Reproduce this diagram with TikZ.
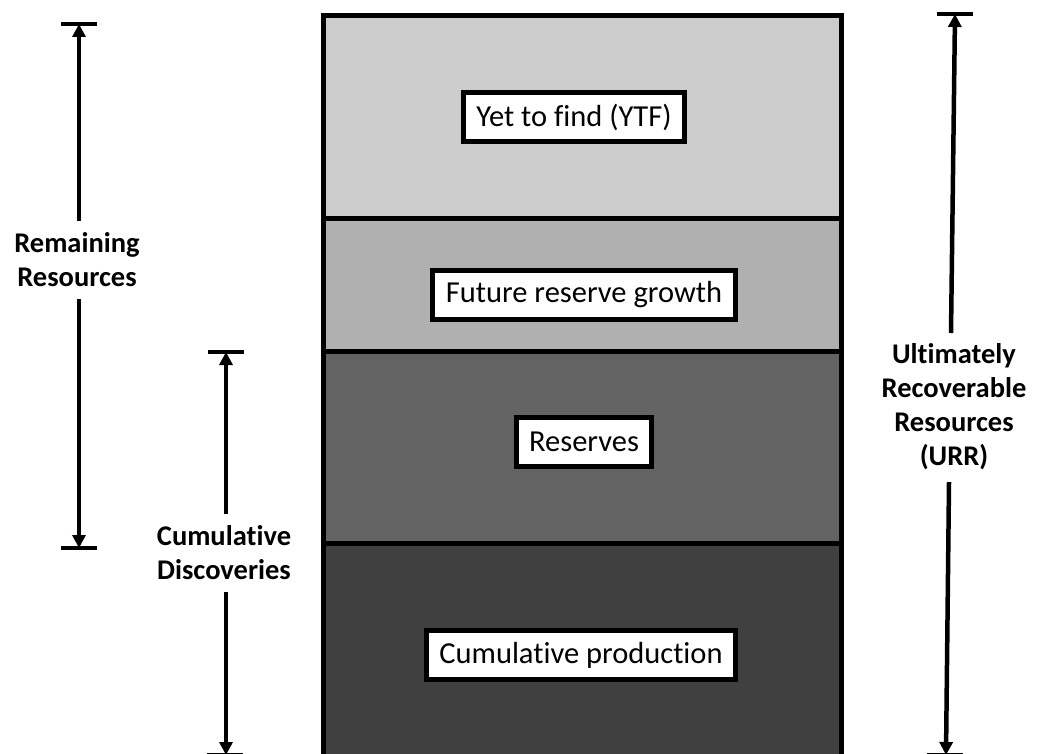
\documentclass[tikz,border=0pt]{standalone}
\usepackage{fontspec}
\setmainfont{Carlito}[Ligatures={NoCommon}]
\usetikzlibrary{arrows.meta}
\definecolor{lyrA}{HTML}{CCCCCC}
\definecolor{lyrB}{HTML}{B0B0B0}
\definecolor{lyrC}{HTML}{636363}
\definecolor{lyrD}{HTML}{404040}
\tikzset{
  boxlabel/.style={draw=black, line width=5pt, fill=white, inner xsep=13pt, minimum height=49pt, font=\fontsize{30.5}{36}\selectfont},
  sidelabel/.style={align=center, inner xsep=2pt, font=\bfseries\fontsize{28.5}{34}\selectfont},
  dimarrow/.style={line width=4.5pt, -{Triangle[width=13pt,length=13pt]}},
  dimbar/.style={line width=4.5pt},
  border/.style={line width=5pt}
}
\begin{document}
\begin{tikzpicture}[x=1pt,y=-1pt]
\useasboundingbox (0,0) rectangle (1038,754);
% layers
\fill[lyrA] (323,16) rectangle (841,218);
\fill[lyrB] (323,218) rectangle (841,351);
\fill[lyrC] (323,351) rectangle (841,543);
\fill[lyrD] (323,543) rectangle (841,770);
\draw[border] (323,770) -- (323,16) -- (841,16) -- (841,770);
\draw[border] (323,218) -- (841,218);
\draw[border] (323,351) -- (841,351);
\draw[border] (323,543) -- (841,543);
% box labels
\node[boxlabel] (ytf) at (574,117) {Yet to find (YTF)};
\node[boxlabel] (frg) at (584,295) {Future reserve growth};
\node[boxlabel] (res) at (584,442) {Reserves};
\node[boxlabel] (cp) at (581,655) {Cumulative production};
% Remaining resources
\coordinate (rrtop) at (79,24);
\coordinate (rrbot) at (79,548);
\draw[dimbar] (61,24) -- (97,24);
\draw[dimbar] (61,548) -- (97,548);
\node[sidelabel, inner ysep=12pt] (rr) at (77,260) {Remaining\\Resources};
\draw[dimarrow] (rr.north -| rrtop) -- (rrtop);
\draw[dimarrow] (rr.south -| rrtop) -- (rrbot);
% Cumulative discoveries
\coordinate (cdtop) at (226,352);
\coordinate (cdbot) at (226,755);
\draw[dimbar] (208,352) -- (244,352);
\draw[dimbar] (207,755) -- (243,755);
\node[sidelabel, inner ysep=12pt] (cd) at (224,553) {Cumulative\\Discoveries};
\draw[dimarrow] (cd.north -| cdtop) -- (cdtop);
\draw[dimarrow] (cd.south -| cdtop) -- (cdbot);
% URR
\coordinate (urtop) at (955,14);
\coordinate (urbot) at (946,755);
\draw[dimbar] (937,14) -- (973,14);
\draw[dimbar] (927,755) -- (963,755);
\node[sidelabel, inner ysep=6pt] (ur) at (954,407) {Ultimately\\Recoverable\\Resources\\(URR)};
\draw[dimarrow] (951,333) -- (urtop);
\draw[dimarrow] (949,482) -- (urbot);
\end{tikzpicture}
\end{document}
